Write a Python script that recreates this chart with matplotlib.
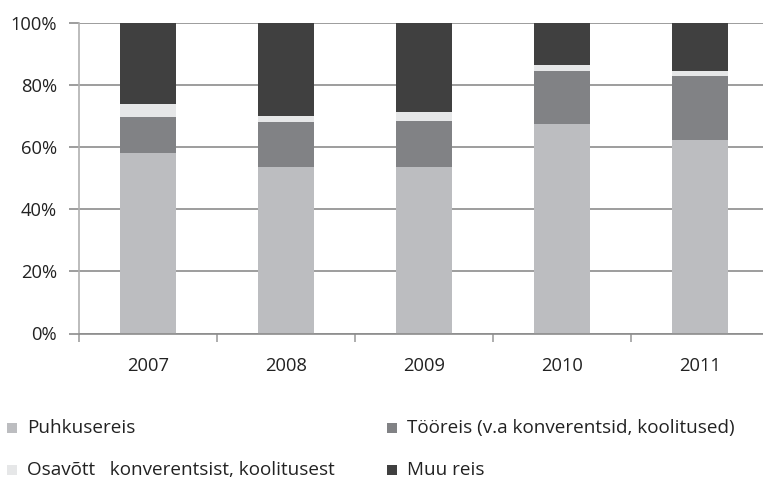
import matplotlib
matplotlib.use("Agg")
import matplotlib.pyplot as plt
from matplotlib.patches import Rectangle
from matplotlib.ticker import FuncFormatter, FixedLocator

plt.rcParams["font.family"] = ["Open Sans", "DejaVu Sans"]

# --------------------------------------------------------------------------
# data (shares, %)
# --------------------------------------------------------------------------
years = ["2007", "2008", "2009", "2010", "2011"]
puhkus = [58.1, 53.6, 53.6, 67.5, 62.3]
tooreis = [11.6, 14.5, 14.8, 17.0, 20.6]
osavott = [4.2, 1.9, 2.9, 2.0, 1.6]
muu = [26.1, 30.0, 28.7, 13.5, 15.5]

series_names = [
    "Puhkusereis",
    "Tööreis (v.a konverentsid, koolitused)",
    "Osavõtt   konverentsist, koolitusest",
    "Muu reis",
]
colors = ["#bcbdc0", "#818285", "#e6e7e8", "#404040"]

FS = 13.2
W, H = 763, 480
fig = plt.figure(figsize=(W / 100, H / 100), dpi=100)
ax = fig.add_axes([79 / W, (H - 333.5) / H, (769 - 79) / W, (333.5 - 23) / H])

x = list(range(len(years)))
bottom = [0.0] * len(years)
for vals, col, name in zip([puhkus, tooreis, osavott, muu], colors, series_names):
    ax.bar(x, vals, width=0.41, bottom=bottom, color=col, label=name, zorder=2)
    bottom = [b + v for b, v in zip(bottom, vals)]

ax.set_xlim(-0.5, len(years) - 0.5)
ax.set_ylim(0, 100)
ax.set_yticks(range(0, 101, 20))
ax.yaxis.set_major_formatter(FuncFormatter(lambda v, _: f"{v:.0f}%"))
ax.grid(axis="y", color="#8c8c8c", linewidth=1.2, zorder=0)

# category boundaries as ticks, labels centred under the bars
ax.xaxis.set_major_locator(FixedLocator([i - 0.5 for i in range(len(years) + 1)]))
ax.xaxis.set_major_formatter(FuncFormatter(lambda v, _: ""))
ax.xaxis.set_minor_locator(FixedLocator(x))
ax.set_xticklabels(years, minor=True)
ax.tick_params(axis="x", which="major", length=6, color="#a0a0a0", width=1.2)
ax.tick_params(axis="x", which="minor", length=0, pad=17, labelsize=FS, labelcolor="#222222")
ax.tick_params(axis="y", length=7, color="#8c8c8c", width=1.2, labelsize=FS,
               labelcolor="#222222", pad=9)

for side in ["top", "right"]:
    ax.spines[side].set_visible(False)
ax.spines["left"].set_color("#b0b0b0")
ax.spines["left"].set_linewidth(1.2)
ax.spines["bottom"].set_color("#8c8c8c")
ax.spines["bottom"].set_linewidth(1.2)

# legend: two columns, two rows, placed by hand (pixel positions)
leg_pos = [(7, 428), (387, 428), (7, 470), (387, 470)]
leg_order = [0, 1, 2, 3]
for (px, py), i in zip(leg_pos, leg_order):
    fig.patches.append(Rectangle((px / W, 1 - (py + 5) / H), 10 / W, 10 / H,
                                 transform=fig.transFigure, facecolor=colors[i],
                                 edgecolor="none"))
    fig.text((px + 20) / W, 1 - py / H, series_names[i], fontsize=13.6,
             color="#222222", va="center", ha="left")

fig.savefig("out.png", dpi=100)
